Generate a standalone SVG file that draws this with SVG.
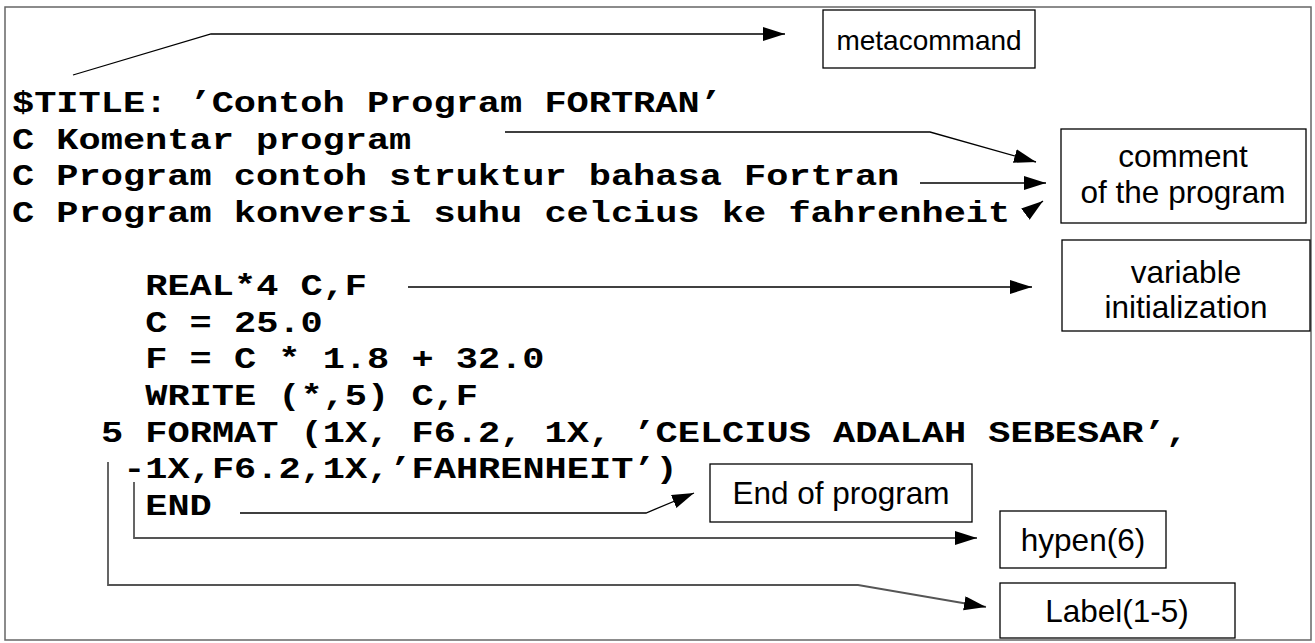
<svg xmlns="http://www.w3.org/2000/svg" width="1315" height="643" viewBox="0 0 1315 643">
<style>
.code{font-family:"Liberation Mono","DejaVu Sans Mono",monospace;font-weight:bold;font-size:29px;fill:#000}
.lbl{font-family:"Liberation Sans",Arial,sans-serif;font-size:31.5px;fill:#000;text-anchor:middle}
.box{fill:#fff;stroke:#000;stroke-width:1.3}
.con{fill:none;stroke:#000;stroke-width:1.3}
.brk{fill:none;stroke:#555;stroke-width:1.8}
</style>
<defs>
<marker id="ah" markerUnits="userSpaceOnUse" markerWidth="24" markerHeight="16" refX="22" refY="7" orient="auto">
<path d="M0,0 L22,7 L0,14 Z" fill="#000"/>
</marker>
</defs>
<rect x="5" y="7" width="1306" height="633" fill="#fff" stroke="#666" stroke-width="1.5"/>
<g id="code" transform="scale(1.275,1)">
<text class="code" x="9.41" y="112">$TITLE: ’Contoh Program FORTRAN’</text>
<text class="code" x="9.41" y="149">C Komentar program</text>
<text class="code" x="9.41" y="185">C Program contoh struktur bahasa Fortran</text>
<text class="code" x="9.41" y="222">C Program konversi suhu celcius ke fahrenheit</text>
<text class="code" x="113.9" y="295">REAL*4 C,F</text>
<text class="code" x="113.9" y="332">C = 25.0</text>
<text class="code" x="113.9" y="368">F = C * 1.8 + 32.0</text>
<text class="code" x="113.9" y="405">WRITE (*,5) C,F</text>
<text class="code" x="79.2" y="442">5 FORMAT (1X, F6.2, 1X, ’CELCIUS ADALAH SEBESAR’,</text>
<text class="code" x="96.6" y="478">-1X,F6.2,1X,’FAHRENHEIT’)</text>
<text class="code" x="113.9" y="515">END</text>
</g>
<g id="connectors">
<polyline class="con" points="73,75 211,34 785,34" marker-end="url(#ah)"/>
<polyline class="con" points="505,132 930,132 1036,162" marker-end="url(#ah)"/>
<line class="con" x1="920" y1="183" x2="1046" y2="183" marker-end="url(#ah)"/>
<line class="con" x1="1027" y1="213" x2="1043" y2="201" marker-end="url(#ah)"/>
<line class="con" x1="408" y1="287" x2="1032" y2="287" marker-end="url(#ah)"/>
<polyline class="con" points="240,513 646,513 694,493" marker-end="url(#ah)"/>
<polyline class="brk" points="134,482 134,538 977,538" marker-end="url(#ah)"/>
<polyline class="brk" points="108,462 108,585 858,585 986,607" marker-end="url(#ah)"/>
</g>
<g id="metacommand">
<rect class="box" x="823" y="10" width="212" height="58"/>
<text class="lbl" x="929" y="50" style="font-size:28px">metacommand</text>
</g>
<g id="comment">
<rect class="box" x="1061" y="129" width="245" height="94"/>
<text class="lbl" x="1183" y="167">comment</text>
<text class="lbl" x="1183" y="203">of the program</text>
</g>
<g id="variable">
<rect class="box" x="1062" y="240" width="248" height="91"/>
<text class="lbl" x="1186" y="283">variable</text>
<text class="lbl" x="1186" y="318">initialization</text>
</g>
<g id="end">
<rect class="box" x="710" y="464" width="262" height="58"/>
<text class="lbl" x="841" y="504">End of program</text>
</g>
<g id="hypen">
<rect class="box" x="1000" y="511" width="166" height="57"/>
<text class="lbl" x="1083" y="551">hypen(6)</text>
</g>
<g id="label">
<rect class="box" x="1000" y="583" width="235" height="55"/>
<text class="lbl" x="1117" y="622">Label(1-5)</text>
</g>
</svg>
